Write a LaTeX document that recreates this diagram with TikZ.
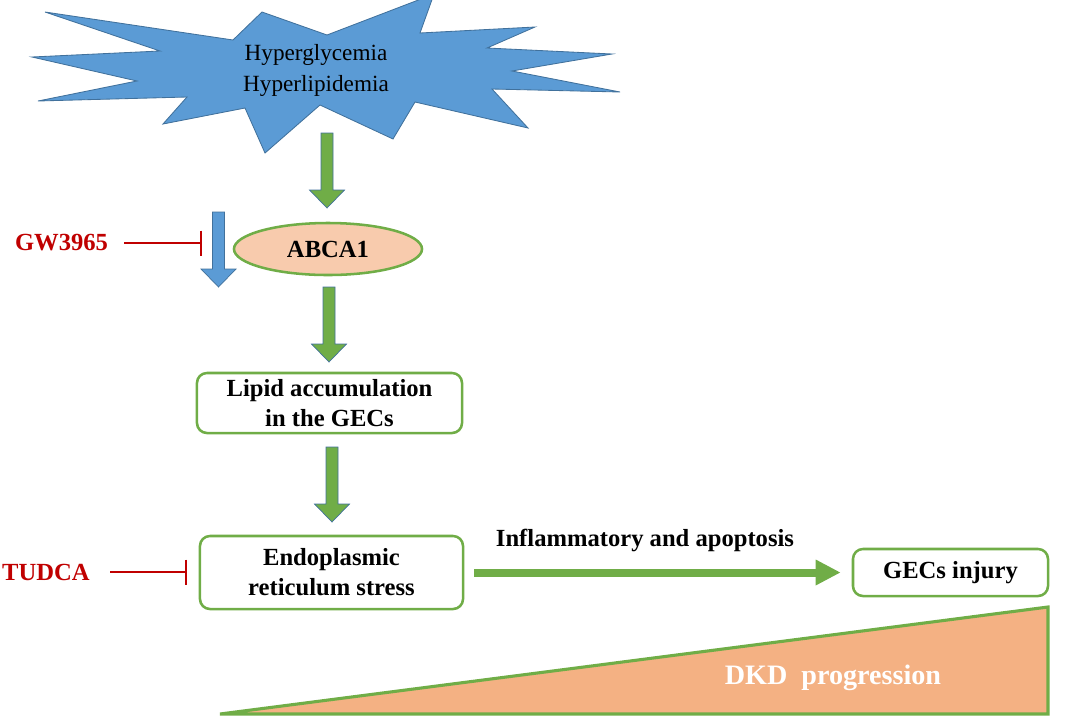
\documentclass[tikz,border=0pt]{standalone}
\usepackage{fontspec}
\setmainfont{Liberation Serif}
\usetikzlibrary{arrows.meta,shapes.geometric}
\definecolor{leafgreen}{HTML}{70AD47}
\definecolor{skyblue}{HTML}{5B9BD5}
\definecolor{edgeblue}{HTML}{41719C}
\definecolor{peach}{HTML}{F8CBAD}
\definecolor{salmon}{HTML}{F4B183}
\definecolor{darkred}{HTML}{C00000}
\tikzset{
  box/.style={draw=leafgreen, line width=1.8pt, rounded corners=0.25cm,
    align=center, font=\fontsize{17.5}{21.3}\selectfont\bfseries},
  drug/.style={text=darkred, inner sep=0pt, font=\fontsize{17.5}{21}\selectfont\bfseries},
  inhibit/.style={draw=darkred, line width=1.6pt, -{Bar[width=0.625cm]}},
  downarrow/.pic={\path[pic actions] (-6,0) -- (6,0) -- (6,57) -- (17.5,57)
    -- (0,75) -- (-17.5,57) -- (-6,57) -- cycle;}
}
\begin{document}
\begin{tikzpicture}[x=0.025cm, y=-0.025cm]
      \useasboundingbox (0,0) rectangle (1071,725);
      % the burst at the top
      \filldraw[fill=skyblue, draw=edgeblue, line width=0.6pt]
        (45,12) -- (233,40) -- (262,12) -- (327,35) -- (434,-6) -- (420,33)
        -- (535,27) -- (487,48) -- (612,54) -- (512,71) -- (620,92)
        -- (492,89) -- (528,128) -- (415,102) -- (393,139) -- (320,105)
        -- (265,153) -- (245,108) -- (163,124) -- (187,97) -- (38,101)
        -- (137,81) -- (32,57) -- (160,51) -- cycle;
      \node[align=center, font=\fontsize{16.5}{22}\selectfont] (burst) at (316,70)
        {Hyperglycemia\\Hyperlipidemia};
      % nodes
      \node[ellipse, draw=leafgreen, line width=1.8pt, fill=peach,
        minimum width=4.7cm, minimum height=1.3cm,
        font=\fontsize{17.5}{21}\selectfont\bfseries] (abca) at (328,249) {ABCA1};
      \node[box, minimum width=6.625cm, minimum height=1.5cm] (lipid) at (329.5,403)
        {Lipid accumulation\\in the GECs};
      \node[box, minimum width=6.575cm, minimum height=1.825cm] (ers) at (331.5,572.5)
        {Endoplasmic\\reticulum stress};
      \node[box, minimum width=4.875cm, minimum height=1.175cm] (injury) at (950.5,572.5)
        {GECs injury};
      \node[drug] (gw) at (61.5,243) {GW3965};
      \node[drug] (tudca) at (46,572) {TUDCA};
      \coordinate (gwbar) at (202,243);
      \coordinate (tudcabar) at (187,572);
      % block arrows
      \pic[fill=leafgreen, draw=edgeblue, line width=0.5pt] at (327,133) {downarrow};
      \pic[fill=leafgreen, draw=edgeblue, line width=0.5pt] at (329,287) {downarrow};
      \pic[fill=leafgreen, draw=edgeblue, line width=0.5pt] at (332,447) {downarrow};
      \pic[fill=skyblue, draw=edgeblue, line width=0.5pt] at (218.5,212) {downarrow};
      % inhibitions
      \draw[inhibit] ([xshift=0.4cm]gw.east) -- (gwbar);
      \draw[inhibit] ([xshift=0.5cm]tudca.east) -- (tudcabar);
      % towards the injury
      \draw[leafgreen, line width=0.2cm, shorten <=0.25cm, shorten >=0.275cm,
        -{Triangle[length=0.625cm, width=0.6cm]}] (ers.east) -- (injury.west);
      \node[font=\fontsize{17.5}{21}\selectfont\bfseries] (inflam) at (645,540)
        {Inflammatory and apoptosis};
      % progression wedge
      \filldraw[fill=salmon, draw=leafgreen, line width=2.2pt]
        (220,714) -- (1048,714) -- (1048,607) -- cycle;
      \node[text=white, font=\fontsize{20}{24}\selectfont\bfseries] (dkd) at (833,678)
        {DKD~ progression};
    \end{tikzpicture}
\end{document}
